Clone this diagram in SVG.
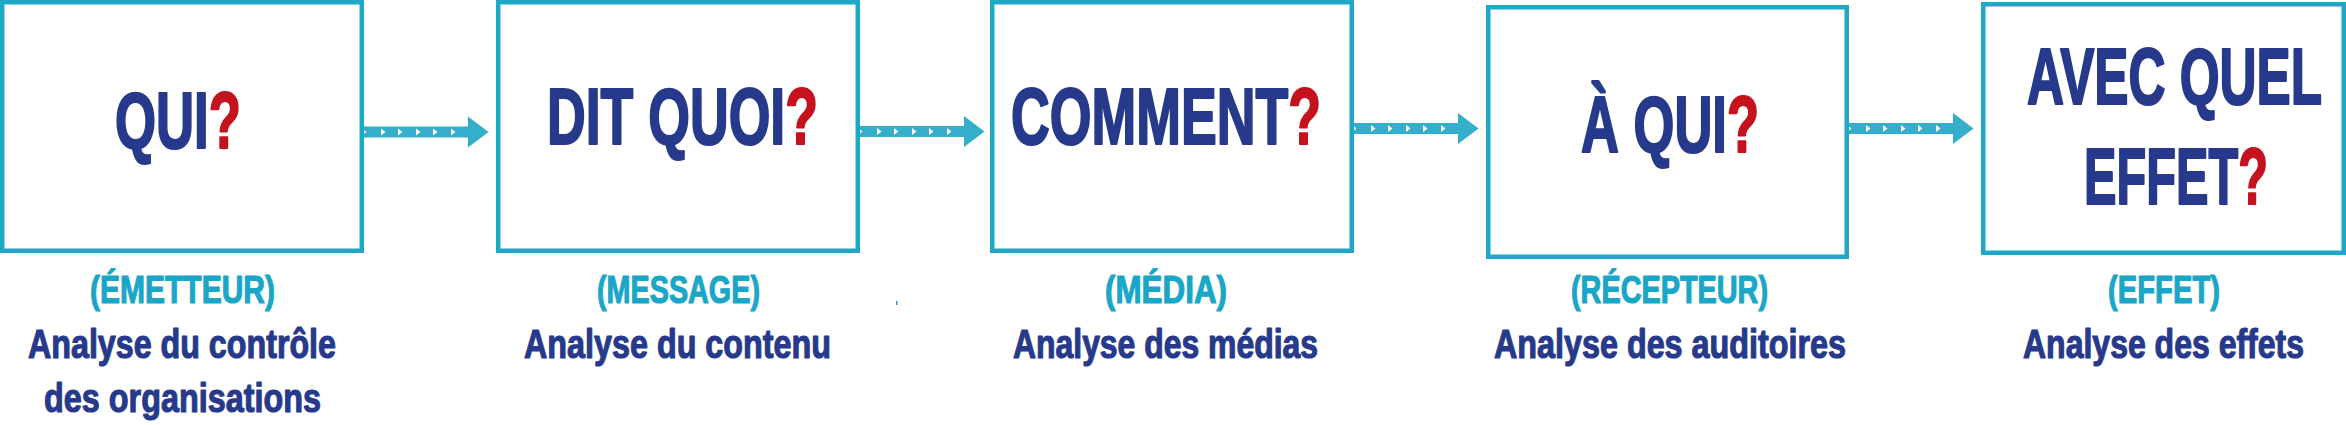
<svg xmlns="http://www.w3.org/2000/svg" xmlns:xlink="http://www.w3.org/1999/xlink" width="2346" height="425" viewBox="0 0 2346 425">
<style>
.box{fill:#fff;stroke:#1FA7C7;stroke-width:4.5}
.t{font-family:"Liberation Sans Narrow","Liberation Sans",Arial,sans-serif;font-weight:bold;fill:#27398A;stroke:#27398A;stroke-width:1.2;stroke-linejoin:round}
.title{font-size:80px;stroke-width:2.2}
.q{fill:#C4121F;stroke:#C4121F}
.sub{font-size:39px;fill:#1AA6C6;stroke:#1AA6C6}
.an{font-size:41px}
.arr{fill:#34AECB}
.tri{fill:#fff}
</style>
<defs>
<g id="arrow">
<path class="arr" d="M0,-5.5 H104 V-15.5 L124.5,0 L104,15.5 V5.5 H0 Z"/>
<path class="tri" d="M0,-2 L2.5,0 L0,2 Z M17,-3.5 L21.5,0 L17,3.5 Z M34,-3.5 L38.5,0 L34,3.5 Z M52,-3.5 L56.5,0 L52,3.5 Z M69,-3.5 L73.5,0 L69,3.5 Z M87,-3.5 L91.5,0 L87,3.5 Z"/>
</g>
</defs>
<rect width="2346" height="425" fill="#fff"/>
<g id="connectors">
<use xlink:href="#arrow" transform="translate(364,132)"/>
<use xlink:href="#arrow" transform="translate(860,131.5)"/>
<use xlink:href="#arrow" transform="translate(1354,128.5)"/>
<use xlink:href="#arrow" transform="translate(1849,128.5)"/>
</g>
<g id="node-qui">
<rect class="box" x="2.25" y="2.25" width="359.5" height="248.5"/>
<text class="t title" x="115" y="148" textLength="126" lengthAdjust="spacingAndGlyphs">QUI<tspan class="q">?</tspan></text>
<text class="t sub" x="90" y="303" textLength="185" lengthAdjust="spacingAndGlyphs">(ÉMETTEUR)</text>
<text class="t an" x="28" y="358" textLength="308" lengthAdjust="spacingAndGlyphs">Analyse du contrôle</text>
<text class="t an" x="44" y="412" textLength="277" lengthAdjust="spacingAndGlyphs">des organisations</text>
</g>
<g id="node-dit-quoi">
<rect class="box" x="498.25" y="2.25" width="359.5" height="248.5"/>
<text class="t title" x="547" y="144" textLength="271" lengthAdjust="spacingAndGlyphs">DIT QUOI<tspan class="q">?</tspan></text>
<text class="t sub" x="597" y="303" textLength="163" lengthAdjust="spacingAndGlyphs">(MESSAGE)</text>
<text class="t an" x="524" y="358" textLength="307" lengthAdjust="spacingAndGlyphs">Analyse du contenu</text>
</g>
<rect x="896" y="301" width="1.5" height="4" fill="#1AA6C6"/>
<g id="node-comment">
<rect class="box" x="992.25" y="2.25" width="359.5" height="248.5"/>
<text class="t title" x="1011" y="144" textLength="310" lengthAdjust="spacingAndGlyphs">COMMENT<tspan class="q">?</tspan></text>
<text class="t sub" x="1105" y="303" textLength="122" lengthAdjust="spacingAndGlyphs">(MÉDIA)</text>
<text class="t an" x="1013" y="358" textLength="305" lengthAdjust="spacingAndGlyphs">Analyse des médias</text>
</g>
<g id="node-a-qui">
<rect class="box" x="1488.25" y="7.25" width="358.5" height="249.5"/>
<text class="t title" x="1581" y="152" textLength="178" lengthAdjust="spacingAndGlyphs">À QUI<tspan class="q">?</tspan></text>
<text class="t sub" x="1571" y="303" textLength="197" lengthAdjust="spacingAndGlyphs">(RÉCEPTEUR)</text>
<text class="t an" x="1494" y="358" textLength="352" lengthAdjust="spacingAndGlyphs">Analyse des auditoires</text>
</g>
<g id="node-effet">
<rect class="box" x="1983.25" y="4.25" width="360.5" height="248.5"/>
<text class="t title" x="2027" y="104" textLength="295" lengthAdjust="spacingAndGlyphs">AVEC QUEL</text>
<text class="t title" x="2084" y="204" textLength="184" lengthAdjust="spacingAndGlyphs">EFFET<tspan class="q">?</tspan></text>
<text class="t sub" x="2108" y="303" textLength="112" lengthAdjust="spacingAndGlyphs">(EFFET)</text>
<text class="t an" x="2023" y="358" textLength="281" lengthAdjust="spacingAndGlyphs">Analyse des effets</text>
</g>
</svg>
